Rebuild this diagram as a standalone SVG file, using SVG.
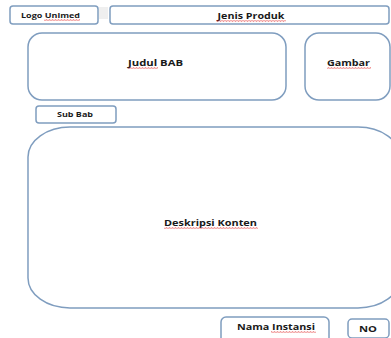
<svg xmlns="http://www.w3.org/2000/svg" width="391" height="338" viewBox="0 0 391 338">
<defs>
<style>
.box{fill:#ffffff;stroke:#7f9dbf;stroke-width:1.5}
.t{font-family:"Open Sans","Liberation Sans",sans-serif;font-weight:bold;fill:#1a1a1a;text-anchor:middle}
.sq{fill:none;stroke:#e03030;stroke-width:0.8}
</style>
<pattern id="wave" width="3" height="2" patternUnits="userSpaceOnUse">
<path d="M0,1.5 L0.75,0.5 L1.5,1.5 L2.25,0.5 L3,1.5" fill="none" stroke="#e03030" stroke-width="0.6"/>
</pattern>
</defs>
<rect width="391" height="338" fill="#ffffff"/>
<rect x="99" y="7" width="9" height="12" fill="#efefef"/>
<g id="logo">
<rect class="box" x="10" y="6" width="88" height="18" rx="3"/>
<text class="t" x="50.5" y="18" font-size="7.5" textLength="59" lengthAdjust="spacingAndGlyphs">Logo Unimed</text>
<rect x="44" y="19" width="36" height="2" fill="url(#wave)"/>
</g>
<g id="jenis">
<rect class="box" x="110" y="6" width="279" height="18" rx="3"/>
<text class="t" x="251" y="19" font-size="9" textLength="67" lengthAdjust="spacingAndGlyphs">Jenis Produk</text>
<rect x="216" y="20" width="70" height="2" fill="url(#wave)"/>
</g>
<g id="judul">
<rect class="box" x="28" y="33" width="258" height="67" rx="14"/>
<text class="t" x="155.5" y="66" font-size="9" textLength="55" lengthAdjust="spacingAndGlyphs">Judul BAB</text>
<rect x="128" y="67" width="30" height="2" fill="url(#wave)"/>
</g>
<g id="gambar">
<rect class="box" x="305" y="33" width="85" height="67" rx="14"/>
<text class="t" x="348.5" y="66" font-size="9" textLength="43" lengthAdjust="spacingAndGlyphs">Gambar</text>
<rect x="327" y="67" width="44" height="2" fill="url(#wave)"/>
</g>
<g id="subbab">
<rect class="box" x="36" y="106" width="80" height="17" rx="3"/>
<text class="t" x="75" y="117" font-size="7" textLength="36" lengthAdjust="spacingAndGlyphs">Sub Bab</text>
</g>
<g id="deskripsi">
<rect class="box" x="28" y="127" width="372" height="181" rx="42" ry="30"/>
<text class="t" x="210.5" y="226" font-size="9" textLength="93" lengthAdjust="spacingAndGlyphs">Deskripsi Konten</text>
<rect x="164" y="227" width="94" height="2" fill="url(#wave)"/>
</g>
<g id="instansi">
<rect class="box" x="221" y="317" width="108" height="30" rx="5"/>
<text class="t" x="276" y="330" font-size="9" textLength="78" lengthAdjust="spacingAndGlyphs">Nama Instansi</text>
<rect x="271" y="331" width="45" height="2" fill="url(#wave)"/>
</g>
<g id="no">
<rect class="box" x="348" y="319" width="41" height="19" rx="4"/>
<text class="t" x="368" y="332" font-size="8.5" textLength="18" lengthAdjust="spacingAndGlyphs">NO</text>
</g>
<g id="connectors"></g>
</svg>
